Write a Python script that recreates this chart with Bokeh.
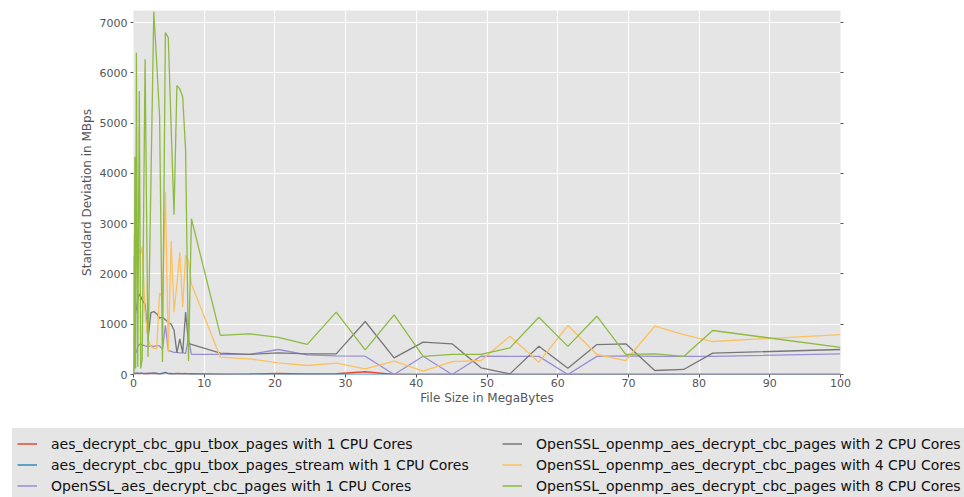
from bokeh.plotting import figure
from bokeh.layouts import column
from bokeh.models import Legend, LegendItem, LinearAxis, Range1d, FixedTicker, ColumnDataSource
from bokeh.embed import file_html
from bokeh.resources import INLINE

# ---- data ----
file_size_mb = [0.004, 0.04, 0.1, 0.2, 0.3, 0.41, 0.6, 0.82, 1.02, 1.23, 1.64, 2.05, 2.46, 2.87,
                3.28, 3.69, 4.1, 4.51, 4.92, 5.33, 5.73, 6.14, 6.55, 6.96, 7.37, 7.78, 8.19,
                12.29, 16.38, 20.48, 24.58, 28.67, 32.77, 36.86, 40.96, 45.06, 49.15, 53.25,
                57.34, 61.44, 65.54, 69.63, 73.73, 77.82, 81.92, 100]

gpu_tbox_1 = [0, 20, 10, 30, 15, 25, 10, 20, 30, 15, 20, 10, 25, 15, 20, 10, 15, 40, 20, 10,
              15, 20, 10, 15, 20, 10, 15,
              5, 10, 20, 10, 15, 55, 0, 0, 0, 0, 0, 0, 0, 0, 0, 0, 0, 0, 0]
gpu_tbox_stream_1 = [0, 15, 30, 10, 25, 20, 35, 15, 20, 30, 10, 25, 15, 30, 20, 10, 25, 40, 15,
                     20, 10, 15, 20, 10, 15, 10, 5,
                     0, 0, 0, 0, 0, 0, 0, 0, 0, 0, 0, 0, 0, 0, 0, 0, 0, 0, 0]
openssl_1 = [0, 100, 250, 450, 430, 450, 550, 600, 600, 590, 570, 560, 570, 560, 575, 570, 500,
             980, 480, 460, 440, 440, 430, 430, 420, 720, 400,
             400, 400, 497, 390, 370, 364, 0, 364, 0, 364, 360, 360, 0, 360, 370, 360, 360, 360, 411]
openmp_2 = [0, 300, 800, 1100, 1250, 1300, 1500, 1600, 1550, 1480, 1400, 700, 1230, 1250, 1210,
            1120, 1140, 1090, 1040, 1000, 880, 430, 710, 430, 1240, 620, 600,
            425, 400, 430, 410, 410, 1054, 331, 643, 610, 133, 13, 563, 126, 596, 610, 80, 100, 424, 497]
openmp_4 = [0, 2800, 1500, 2300, 1700, 2900, 2000, 2500, 2400, 2540, 1250, 700, 560, 520, 510,
            1620, 1540, 3630, 450, 2660, 1240, 1800, 2430, 1340, 2370, 2250, 1800,
            345, 312, 232, 179, 225, 113, 265, 66, 258, 278, 762, 245, 974, 398, 278, 960, 795, 656, 795]
openmp_8 = [0, 2350, 80, 4330, 120, 6400, 150, 5640, 120, 300, 6270, 350, 3800, 7220, 6200, 5130,
            250, 6800, 6700, 4900, 3180, 5750, 5680, 5520, 4450, 270, 3100,
            780, 810, 740, 600, 1240, 490, 1185, 360, 400, 400, 530, 1140, 560, 1160, 400, 410, 360, 875, 540]

series_labels = [
    "aes_decrypt_cbc_gpu_tbox_pages with 1 CPU Cores",
    "aes_decrypt_cbc_gpu_tbox_pages_stream with 1 CPU Cores",
    "OpenSSL_aes_decrypt_cbc_pages with 1 CPU Cores",
    "OpenSSL_openmp_aes_decrypt_cbc_pages with 2 CPU Cores",
    "OpenSSL_openmp_aes_decrypt_cbc_pages with 4 CPU Cores",
    "OpenSSL_openmp_aes_decrypt_cbc_pages with 8 CPU Cores",
]
series_values = [gpu_tbox_1, gpu_tbox_stream_1, openssl_1, openmp_2, openmp_4, openmp_8]
series_colors = ["#E24A33", "#348ABD", "#988ED5", "#777777", "#FBC15E", "#8EBA42"]

x_ticks = [0, 10, 20, 30, 40, 50, 60, 70, 80, 90, 100]
y_ticks = [0, 1000, 2000, 3000, 4000, 5000, 6000, 7000]

# ---- main chart ----
p = figure(width=964, height=428, output_backend="svg", toolbar_location=None,
           x_range=Range1d(0, 100), y_range=Range1d(0, 7240),
           min_border_left=133, min_border_right=124, min_border_top=10, min_border_bottom=54,
           x_axis_label="File Size in MegaBytes", y_axis_label="Standard Deviation in MBps")
p.background_fill_color = "#E5E5E5"
p.border_fill_color = "white"
p.outline_line_color = None

for g in (p.xgrid, p.ygrid):
    g.grid_line_color = "white"
    g.grid_line_width = 1
p.xaxis.ticker = FixedTicker(ticks=x_ticks)
p.yaxis.ticker = FixedTicker(ticks=y_ticks)

for ax in (p.xaxis, p.yaxis):
    ax.axis_line_color = None
    ax.major_tick_line_color = "#555555"
    ax.major_tick_out = 3
    ax.major_tick_in = 0
    ax.minor_tick_line_color = None
    ax.major_label_text_color = "#555555"
    ax.major_label_text_font = "DejaVu Sans"
    ax.major_label_text_font_size = "11px"
    ax.axis_label_text_font = "DejaVu Sans"
    ax.axis_label_text_font_size = "12px"
    ax.axis_label_text_font_style = "normal"
    ax.axis_label_text_color = "#555555"
p.xaxis.major_label_standoff = 1
p.xaxis.axis_label_standoff = 1
p.yaxis.major_label_standoff = 3
p.yaxis.axis_label_standoff = 3

right = LinearAxis(ticker=FixedTicker(ticks=y_ticks), axis_line_color=None,
                   major_tick_line_color="#555555", major_tick_out=3, major_tick_in=0,
                   minor_tick_line_color=None,
                   major_label_overrides={t: "" for t in y_ticks})
p.add_layout(right, "right")

for vals, col in zip(series_values, series_colors):
    src = ColumnDataSource(dict(x=file_size_mb, y=vals))
    p.line("x", "y", source=src, line_color=col, line_width=1.3)

# ---- legend strip (second figure holding only the key) ----
# its y range lies below the data, so its copies of the series stay out of view
pl = figure(width=964, height=69, output_backend="svg", toolbar_location=None,
            x_axis_location=None, y_axis_location=None, min_border=0,
            x_range=Range1d(0, 100), y_range=Range1d(-20000, -10000))
pl.outline_line_color = None
pl.grid.visible = False
pl.background_fill_color = "white"
pl.border_fill_color = "white"

for f in (p, pl):
    try:
        f.frame_align = False
    except Exception:
        pass

items = []
for lab, vals, col in zip(series_labels, series_values, series_colors):
    src = ColumnDataSource(dict(x=file_size_mb, y=vals))
    r = pl.line("x", "y", source=src, line_color=col, line_width=1.5)
    items.append(LegendItem(label=lab, renderers=[r]))

legend = Legend(items=items, location=(12, -4), orientation="vertical", ncols=2,
                background_fill_color="#E5E5E5", background_fill_alpha=1.0,
                border_line_alpha=0, padding=5, margin=0, spacing=0,
                glyph_width=20, glyph_height=21, label_height=21, label_width=451,
                label_standoff=14, label_text_font="DejaVu Sans", label_text_font_size="14px",
                label_text_color="#111111")
pl.add_layout(legend)

layout = column(p, pl, spacing=0)
open("out.html", "w").write(file_html(layout, INLINE))
